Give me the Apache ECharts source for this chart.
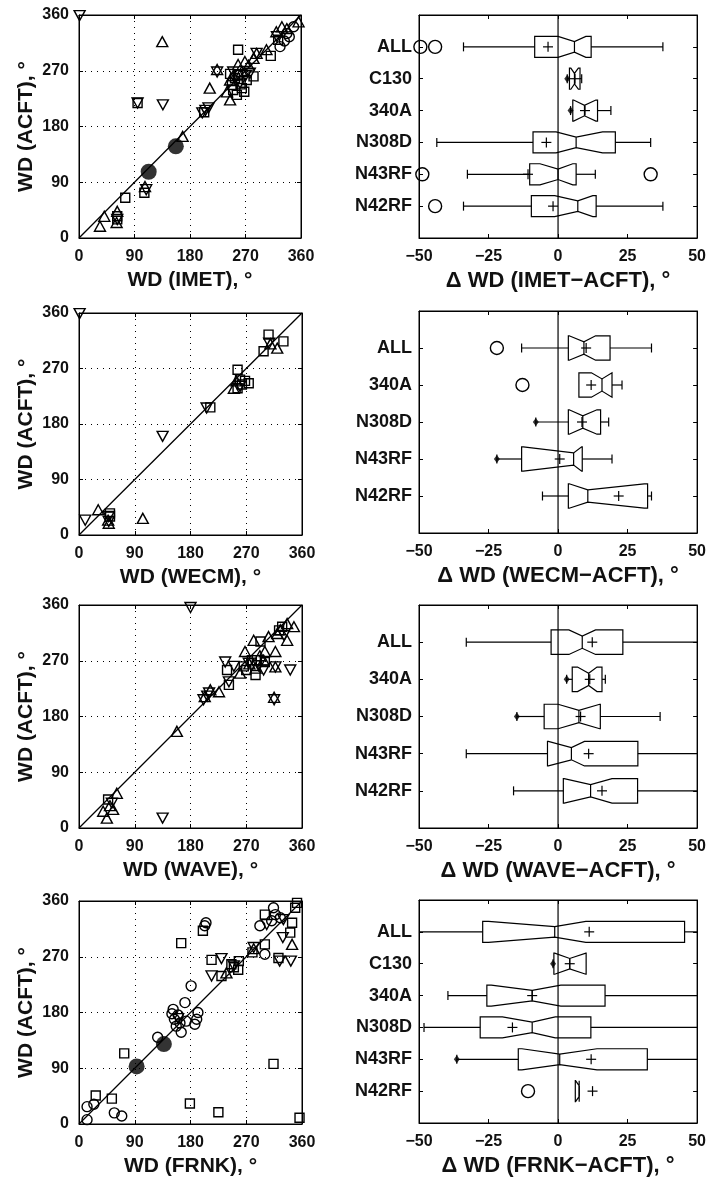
<!DOCTYPE html>
<html><head><meta charset="utf-8">
<script src="https://cdn.jsdelivr.net/npm/echarts@6/dist/echarts.min.js"></script>
<style>html,body{margin:0;padding:0;background:#fff}#c{width:709px;height:1178px}</style>
</head><body><div id="c"></div>
<script>
// ---------- tick labels ----------
const scatterTicks = [0, 90, 180, 270, 360];
const deltaTicks = [-50, -25, 0, 25, 50];

// ---------- scatter data: [instrument WD, aircraft WD] ----------
// IMET
const imetTriUp = [[135,317],[212,242],[168,164],[107,83],[62,43],[61,25],[41,35],[34,19],[224,272],[245,255],[245,223],[264,269],[269,285],[275,279],[283,290],[288,298],[304,304],[320,333],[329,341],[337,338],[356,349],[250,262],[258,280],[240,236]];
const imetTriDown = [[1,359],[95,218],[136,215],[200,202],[205,206],[210,210],[224,268],[261,250],[277,266],[288,298],[321,325],[62,30],[109,78],[250,268],[270,262]];
const imetSquare = [[258,304],[95,218],[203,203],[106,73],[75,65],[62,35],[62,30],[250,239],[256,231],[264,242],[272,255],[253,258],[248,247],[283,261],[258,263],[311,294],[323,320],[262,248],[245,265],[268,236]];
const imetCircle = [[326,309],[337,330],[348,341],[333,318],[341,325]];
const imetFilled = [[157,148],[113,107]];
// WECM
const wecmTriUp = [[31,41],[47,24],[48,19],[103,27],[250,238],[320,303],[309,310],[254,250]];
const wecmTriDown = [[1,359],[10,24],[48,22],[135,160],[206,206],[260,241],[307,311],[48,30]];
const wecmSquare = [[50,35],[50,30],[212,207],[256,268],[256,238],[274,246],[263,244],[298,298],[306,325],[330,314],[260,252],[268,250]];
// WAVE
const waveTriUp = [[45,16],[39,27],[61,56],[55,30],[158,156],[212,223],[226,220],[260,250],[268,285],[282,303],[285,258],[298,271],[317,285],[317,260],[315,211],[306,309],[320,314],[336,330],[347,325],[336,303],[300,285],[275,265],[292,278],[325,320],[50,36],[203,212]];
const waveTriDown = [[180,356],[135,16],[53,40],[201,207],[207,213],[242,236],[236,268],[250,261],[298,255],[274,266],[317,260],[341,255],[315,207],[331,311],[290,262],[210,218]];
const waveSquare = [[47,46],[242,231],[239,255],[266,261],[293,301],[287,271],[285,247],[279,271],[328,325],[323,319],[300,268],[270,255]];
// FRNK
const frnkCircle = [[13,7],[13,28],[24,32],[57,18],[69,13],[127,140],[152,185],[154,169],[165,148],[171,196],[181,223],[173,166],[190,169],[192,180],[157,158],[187,161],[150,178],[160,176],[205,325],[203,320],[300,274],[292,320],[314,349],[317,338],[311,328],[325,333],[163,163]];
const frnkSquare = [[27,46],[53,41],[73,114],[165,292],[200,312],[214,265],[230,239],[246,258],[257,249],[258,263],[280,277],[300,290],[314,97],[225,19],[179,33],[356,10],[300,338],[344,325],[341,309],[349,349],[352,357],[322,268],[250,253]];
const frnkTriDown = [[214,239],[230,267],[282,285],[330,330],[329,301],[324,263],[342,263],[303,322],[250,255],[160,170]];
const frnkTriUp = [[344,290],[282,283],[238,244]];
const frnkFilled = [[93,93],[137,129]];

// ---------- box-plot data ----------
// row: [whiskerLow, q1, notchLow, median, notchHigh, q3, whiskerHigh, mean]
const imetCats = ['ALL','C130','340A','N308D','N43RF','N42RF'];
const imetBoxes = [
  [-34, -8.4, 0, 5.9, 10, 11.9, 37.7, -3.6],
  [3.3, 4.1, 4.6, 5.9, 7.3, 7.9, 8.5, 6.1],
  [4.5, 5.3, 5.6, 9.5, 13.6, 14.2, 19, 9.7],
  [-43.6, -9, -0.7, 6.5, 16, 20.6, 33.3, -4.2],
  [-32.6, -10.2, -6.5, 0, 5.3, 6.5, 13.4, -10.8],
  [-34, -9.6, -1.2, 7.1, 12.5, 13.7, 37.7, -1.8]
];
const imetOutliers = [[-49.5,1],[-44.2,1],[-48.8,5],[33.3,5],[-44.2,6]];
const imetDots = [[3.3,2],[4.5,3]];

const wecmCats = ['ALL','340A','N308D','N43RF','N42RF'];
const wecmBoxes = [
  [-13.1, 3.7, 4, 9.3, 13.5, 18.7, 33.6, 10.1],
  [7.5, 7.5, 12, 15.8, 19.4, 19.4, 23, 11.9],
  [-8, 3.7, 4, 8.9, 14, 15.3, 18.2, 8.6],
  [-22, -13.1, -12.5, 5.6, 8.5, 8.7, 19.4, 0.6],
  [-5.6, 3.7, 4, 10.7, 31, 32.2, 33.6, 21.8]
];
const wecmOutliers = [[-22,1],[-12.8,2]];
const wecmDots = [[-8,3],[-22,4]];

const waveCats = ['ALL','340A','N308D','N43RF','N42RF'];
const waveBoxes = [
  [-33, -2.5, 3.9, 8.7, 13.5, 23.3, 60, 12.3],
  [3.1, 5.1, 7, 11, 14, 15.8, 17, 11.4],
  [-14.8, -5, 0, 7.5, 15, 15.2, 36.7, 8.1],
  [-33, -3.8, -3.5, 4.8, 9.5, 28.7, 60, 11],
  [-16, 1.9, 2.2, 11.7, 19.4, 28.6, 60, 15.8]
];
const waveOutliers = [];
const waveDots = [[3.1,2],[-14.8,3]];

const frnkCats = ['ALL','C130','340A','N308D','N43RF','N42RF'];
const frnkBoxes = [
  [-60, -27.1, -25, -1.2, 10, 45.5, 60, 11.2],
  [-1.8, -1.5, -1.2, 4.2, 10, 10.1, 10.1, 4.2],
  [-39.6, -25.6, -24, -9.3, 1, 16.9, 60, -9.3],
  [-48.2, -28, -20, -9.3, -1, 11.8, 60, -16.4],
  [-36.4, -14.3, -13, 0.6, 14, 32.1, 60, 11.9],
  [6.2, 6.2, 6.3, 7.6, 7.6, 7.6, 7.6, 12.4]
];
const frnkOutliers = [[-10.8,6]];
const frnkDots = [[-1.8,2],[-36.4,5]];

// ---------- build ----------
const FONT = '"Liberation Sans", Arial, sans-serif';
const INK = '#111';
const grids = [], xAxes = [], yAxes = [], series = [];
const minus = v => String(v).replace('-', '\u2212');

function addGrid(r) {
  grids.push(Object.assign({show: true, borderColor: '#000', borderWidth: 1, backgroundColor: 'transparent', containLabel: false}, r));
  return grids.length - 1;
}
function axisBase(gi, min, max, interval, extra) {
  return Object.assign({
    gridIndex: gi, type: 'value', min: min, max: max, interval: interval,
    axisLine: {show: true, onZero: false, lineStyle: {color: '#000', width: 1}},
    axisTick: {show: true, inside: true, length: 4, lineStyle: {color: '#000', width: 1}},
    axisLabel: {show: false},
    splitLine: {show: false}
  }, extra || {});
}
const nameStyle = {fontFamily: FONT, fontSize: 21, fontWeight: 'bold', color: INK};
const boxNameStyle = Object.assign({}, nameStyle, {fontSize: 22});
const labelStyle = {fontFamily: FONT, fontSize: 16, fontWeight: 'bold', color: INK};

function openSym(name, data, symbol, size, rotate, xi, yi) {
  return {type: 'scatter', name: name, data: data, symbol: symbol, symbolSize: size, symbolRotate: rotate || 0,
    xAxisIndex: xi, yAxisIndex: yi, silent: true, z: 3,
    itemStyle: {color: 'rgba(255,255,255,0)', borderColor: '#000', borderWidth: 1.4, opacity: 1}};
}

function scatterPanel(rect, xName, sets) {
  const gi = addGrid(rect);
  const xi = xAxes.length, yi = yAxes.length;
  const lblX = Object.assign({show: true, margin: 11, customValues: scatterTicks}, labelStyle);
  const lblY = Object.assign({show: true, margin: 10, customValues: scatterTicks}, labelStyle);
  const split = {show: true, lineStyle: {color: '#000', width: 1, type: [1, 5]}};
  xAxes.push(axisBase(gi, 0, 360, 90, {position: 'bottom', name: xName, nameLocation: 'middle', nameGap: 32, nameTextStyle: nameStyle, axisLabel: lblX, splitLine: split}));
  xAxes.push(axisBase(gi, 0, 360, 90, {position: 'top'}));
  yAxes.push(axisBase(gi, 0, 360, 90, {position: 'left', name: 'WD (ACFT), \u00b0', nameLocation: 'middle', nameGap: 42, nameTextStyle: nameStyle, axisLabel: lblY, splitLine: split}));
  yAxes.push(axisBase(gi, 0, 360, 90, {position: 'right'}));
  series.push({type: 'line', data: [[0, 0], [360, 360]], xAxisIndex: xi, yAxisIndex: yi, symbol: 'none', silent: true, z: 2,
    lineStyle: {color: '#000', width: 1.3}});
  if (sets.triUp) series.push(openSym('N43RF', sets.triUp, 'triangle', [11, 10], 0, xi, yi));
  if (sets.triDown) series.push(openSym('N42RF', sets.triDown, 'triangle', [11, 10], 180, xi, yi));
  if (sets.square) series.push(openSym('N308D', sets.square, 'rect', 9, 0, xi, yi));
  if (sets.circle) series.push(openSym('340A', sets.circle, 'circle', 10, 0, xi, yi));
  if (sets.filled) series.push({type: 'scatter', name: 'C130', data: sets.filled, symbol: 'circle', symbolSize: 16,
    xAxisIndex: xi, yAxisIndex: yi, silent: true, z: 4, itemStyle: {color: '#000'}});
}

const BOX_MIN = deltaTicks[0], BOX_MAX = deltaTicks[deltaTicks.length - 1];
function boxRender(params, api) {
  const pos = api.value(0);
  const s = [1, 2, 3, 4, 5, 6, 7, 8].map(i => api.value(i));
  const wLo = s[0], q1 = s[1], nLo = s[2], med = s[3], nHi = s[4], q3 = s[5], wHi = s[6], mean = s[7];
  const unitH = Math.abs(api.size([0, 1])[1]);
  const h = unitH * 0.33, hn = h * 0.5, cap = 4.5, pl = 5;
  const cy = api.coord([0, pos])[1];
  const X = x => api.coord([Math.max(BOX_MIN, Math.min(BOX_MAX, x)), pos])[0];
  const st = {stroke: '#000', lineWidth: 1.2, fill: null};
  const line = (x1, y1, x2, y2) => ({type: 'line', shape: {x1: x1, y1: y1, x2: x2, y2: y2}, style: st});
  const ch = [];
  ch.push({type: 'polygon', shape: {points: [
    [X(q1), cy - h], [X(nLo), cy - h], [X(med), cy - hn], [X(nHi), cy - h], [X(q3), cy - h],
    [X(q3), cy + h], [X(nHi), cy + h], [X(med), cy + hn], [X(nLo), cy + h], [X(q1), cy + h]]},
    style: {stroke: '#000', lineWidth: 1.2, fill: 'none'}});
  ch.push(line(X(med), cy - hn, X(med), cy + hn));
  if (wLo < q1) {
    ch.push(line(X(wLo), cy, X(q1), cy));
    if (wLo >= BOX_MIN) ch.push(line(X(wLo), cy - cap, X(wLo), cy + cap));
  }
  if (wHi > q3) {
    ch.push(line(X(q3), cy, X(wHi), cy));
    if (wHi <= BOX_MAX) ch.push(line(X(wHi), cy - cap, X(wHi), cy + cap));
  }
  ch.push(line(X(mean) - pl, cy, X(mean) + pl, cy));
  ch.push(line(X(mean), cy - pl, X(mean), cy + pl));
  return {type: 'group', children: ch};
}

function boxPanel(rect, xName, cats, boxes, outliers, dots) {
  const gi = addGrid(rect);
  const xi = xAxes.length, yi = yAxes.length;
  const n = cats.length + 1;
  const catLabel = Object.assign({}, labelStyle, {show: true, fontSize: 18, margin: 7,
    formatter: v => cats[v - 1] || ''});
  xAxes.push(axisBase(gi, BOX_MIN, BOX_MAX, 25, {position: 'bottom', name: xName, nameLocation: 'middle', nameGap: 32,
    nameTextStyle: boxNameStyle, axisLabel: Object.assign({show: true, margin: 11, customValues: deltaTicks, formatter: minus}, labelStyle)}));
  xAxes.push(axisBase(gi, BOX_MIN, BOX_MAX, 25, {position: 'top'}));
  yAxes.push(axisBase(gi, 0, n, 1, {position: 'left', inverse: true, axisLabel: catLabel}));
  yAxes.push(axisBase(gi, 0, n, 1, {position: 'right', inverse: true}));
  series.push({type: 'line', data: [[0, 0], [0, n]], xAxisIndex: xi, yAxisIndex: yi, symbol: 'none', silent: true, z: 2,
    lineStyle: {color: '#000', width: 1.2}});
  series.push({type: 'custom', name: 'box', xAxisIndex: xi, yAxisIndex: yi, silent: true, z: 3,
    data: boxes.map((b, i) => [i + 1].concat(b)),
    encode: {x: [1, 2, 3, 4, 5, 6, 7, 8], y: 0},
    renderItem: boxRender});
  if (outliers.length) series.push(openSym('outlier', outliers, 'circle', 13, 0, xi, yi));
  if (dots.length) series.push({type: 'scatter', data: dots, symbol: 'diamond', symbolSize: [6, 8],
    xAxisIndex: xi, yAxisIndex: yi, silent: true, z: 4, itemStyle: {color: '#000'}});
}

scatterPanel({left: 79, top: 15, width: 222, height: 223}, 'WD (IMET), \u00b0',
  {triUp: imetTriUp, triDown: imetTriDown, square: imetSquare, circle: imetCircle, filled: imetFilled});
boxPanel({left: 419, top: 15, width: 279, height: 223}, '\u0394 WD (IMET\u2212ACFT), \u00b0', imetCats, imetBoxes, imetOutliers, imetDots);

scatterPanel({left: 79, top: 313, width: 223, height: 222}, 'WD (WECM), \u00b0',
  {triUp: wecmTriUp, triDown: wecmTriDown, square: wecmSquare});
boxPanel({left: 419, top: 311, width: 279, height: 222}, '\u0394 WD (WECM\u2212ACFT), \u00b0', wecmCats, wecmBoxes, wecmOutliers, wecmDots);

scatterPanel({left: 79, top: 605, width: 223, height: 223}, 'WD (WAVE), \u00b0',
  {triUp: waveTriUp, triDown: waveTriDown, square: waveSquare});
boxPanel({left: 419, top: 605, width: 280, height: 223}, '\u0394 WD (WAVE\u2212ACFT), \u00b0', waveCats, waveBoxes, waveOutliers, waveDots);

scatterPanel({left: 79, top: 901, width: 223, height: 224}, 'WD (FRNK), \u00b0',
  {triUp: frnkTriUp, triDown: frnkTriDown, square: frnkSquare, circle: frnkCircle, filled: frnkFilled});
boxPanel({left: 419, top: 900, width: 280, height: 223}, '\u0394 WD (FRNK\u2212ACFT), \u00b0', frnkCats, frnkBoxes, frnkOutliers, frnkDots);

const chart = echarts.init(document.getElementById('c'), null, {renderer: 'canvas'});
chart.setOption({
  backgroundColor: '#fff', animation: false, textStyle: {fontFamily: FONT},
  grid: grids, xAxis: xAxes, yAxis: yAxes, series: series
});
</script></body></html>
